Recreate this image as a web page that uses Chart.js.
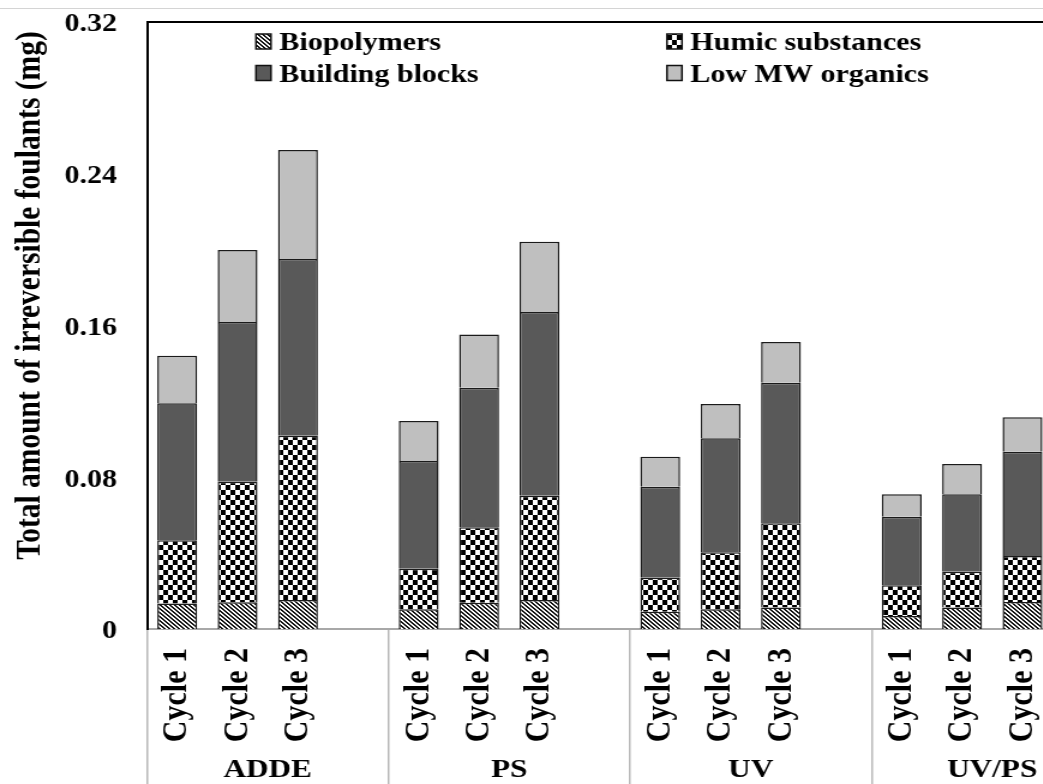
<!DOCTYPE html>
<html>
<head>
<meta charset="utf-8">
<script src="https://cdn.jsdelivr.net/npm/chart.js@4.4.1/dist/chart.umd.min.js"></script>
<style>
  html, body { margin: 0; padding: 0; background: #fff; overflow: hidden; width: 1043px; height: 784px; }
  #rule { position: absolute; left: 0; top: 8px; width: 1043px; height: 0; border-top: 1px solid #d4d4d4; }
  #frame { position: absolute; left: 0; top: 0; width: 930px; height: 784px; transform: scaleX(1.2); transform-origin: 0 0; }
  canvas { display: block; }
</style>
</head>
<body>
<div id="rule"></div>
<div id="frame"><canvas id="chart" width="930" height="784"></canvas></div>
<script>
// Treatment processes and filtration cycles
const processes = ['ADDE', 'PS', 'UV', 'UV/PS'];
const cycles = ['Cycle 1', 'Cycle 2', 'Cycle 3'];

// Irreversible foulant fractions (mg): one row per process, one value per cycle
const biopolymers    = [[0.0135, 0.0141, 0.0153], [0.0104, 0.0139, 0.0153], [0.0091, 0.0104, 0.0114], [0.0069, 0.0114, 0.0142]];
const humicSubst     = [[0.0333, 0.0635, 0.0866], [0.0214, 0.0397, 0.0550], [0.0179, 0.0300, 0.0443], [0.0161, 0.0188, 0.0243]];
const buildingBlocks = [[0.0722, 0.0842, 0.0931], [0.0568, 0.0736, 0.0968], [0.0480, 0.0601, 0.0741], [0.0362, 0.0408, 0.0550]];
const lowMwOrganics  = [[0.0251, 0.0380, 0.0575], [0.0210, 0.0281, 0.0371], [0.0158, 0.0181, 0.0215], [0.0118, 0.0160, 0.0181]];

const seriesNames = ['Biopolymers', 'Humic substances', 'Building blocks', 'Low MW organics'];
const yTicks = [0, 0.08, 0.16, 0.24, 0.32];
const yTitle = 'Total amount of irreversible foulants (mg)';

// Each process gets three cycle slots plus one empty slot as a gap
const slotLabels = processes.flatMap(() => [...cycles, '']);
const toSlots = rows => rows.flatMap(r => [...r, null]);

const FONT = '"Liberation Serif", "Times New Roman", serif';

const canvas = document.getElementById('chart');
const ctx = canvas.getContext('2d');

function hatchPattern() {
  const c = document.createElement('canvas');
  c.width = 4; c.height = 4;
  const g = c.getContext('2d');
  g.fillStyle = '#fff'; g.fillRect(0, 0, 4, 4);
  g.fillStyle = '#111';
  for (let i = 0; i < 4; i++) { g.fillRect(i, i, 1, 1); g.fillRect((i + 1) % 4, i, 1, 1); }
  return ctx.createPattern(c, 'repeat');
}
function checkerPattern() {
  const c = document.createElement('canvas');
  c.width = 8; c.height = 10;
  const g = c.getContext('2d');
  g.fillStyle = '#fff'; g.fillRect(0, 0, 8, 10);
  g.fillStyle = '#000'; g.fillRect(0, 0, 4, 5); g.fillRect(4, 5, 4, 5);
  return ctx.createPattern(c, 'repeat');
}

const fills = [hatchPattern(), checkerPattern(), '#595959', '#bfbfbf'];
const values = [biopolymers, humicSubst, buildingBlocks, lowMwOrganics];

const datasets = values.map((rows, i) => ({
  label: seriesNames[i],
  data: toSlots(rows),
  backgroundColor: fills[i],
  borderColor: '#1a1a1a',
  borderWidth: 1.5,
  barPercentage: 0.66,
  categoryPercentage: 1.0
}));

// Legend drawn as a 2 x 2 grid inside the top of the plot
const legendGrid = {
  id: 'legendGrid',
  afterDraw(chart) {
    const { ctx: c, chartArea: a } = chart;
    const colX = [90.8, 433.3];
    const rowY = [12, 43.5];
    c.save();
    c.font = 'bold 25px ' + FONT;
    c.textBaseline = 'alphabetic';
    c.textAlign = 'left';
    chart.data.datasets.forEach((ds, i) => {
      const x = a.left + colX[i % 2];
      const y = a.top + rowY[Math.floor(i / 2)];
      c.fillStyle = ds.backgroundColor;
      c.fillRect(x, y, 12.5, 15);
      c.lineWidth = 1.5;
      c.strokeStyle = '#111';
      c.strokeRect(x, y, 12.5, 15);
      c.fillStyle = '#000';
      c.fillText(ds.label, x + 19.5, y + 16);
    });
    c.restore();
  }
};

// Vertical axis title
const yAxisTitle = {
  id: 'yAxisTitle',
  afterDraw(chart) {
    const { ctx: c, chartArea: a } = chart;
    c.save();
    c.translate(a.left - 90, (a.top + a.bottom) / 2 - 30);
    c.rotate(-Math.PI / 2);
    c.font = 'bold 29.5px ' + FONT;
    c.fillStyle = '#000';
    c.textAlign = 'center';
    c.textBaseline = 'alphabetic';
    c.fillText(yTitle, 0, 0);
    c.restore();
  }
};

// Keep the plot edges exactly where the layout padding puts them
const noEdgePadding = s => { s.paddingTop = 0; s.paddingBottom = 0; s.paddingLeft = 0; s.paddingRight = 0; };

Chart.defaults.color = '#000';
Chart.defaults.font.family = FONT;

new Chart(ctx, {
  type: 'bar',
  data: { labels: slotLabels, datasets },
  options: {
    responsive: false,
    animation: false,
    layout: { autoPadding: false, padding: { left: 0, top: 22, right: 2.5, bottom: 0 } },
    plugins: { legend: { display: false }, tooltip: { enabled: false } },
    scales: {
      x: {
        stacked: true,
        offset: true,
        weight: 0,
        grid: {
          display: true,
          offset: true,
          drawOnChartArea: false,
          drawTicks: true,
          tickLength: 160,
          lineWidth: 1.5,
          color: c => (c.index % 4 === 0 ? '#b8b8b8' : 'rgba(0,0,0,0)')
        },
        border: { display: true, color: '#a8a8a8', width: 2 },
        ticks: {
          autoSkip: false,
          minRotation: 90,
          maxRotation: 90,
          padding: -141,
          font: { size: 30, weight: 'bold' }
        },
        afterFit: s => { s.height = 120; noEdgePadding(s); }
      },
      group: {
        type: 'category',
        labels: processes,
        position: 'bottom',
        offset: true,
        weight: 1,
        grid: { display: false, drawTicks: false },
        border: { display: false },
        ticks: { autoSkip: false, maxRotation: 0, padding: 5.4, font: { size: 26, weight: 'bold' } },
        afterFit: s => { s.height = 35; noEdgePadding(s); }
      },
      frameTop: {
        type: 'linear',
        position: 'top',
        grid: { display: false, drawTicks: false },
        ticks: { display: false },
        border: { display: true, color: '#000', width: 2 },
        afterFit: s => { s.height = 0; noEdgePadding(s); }
      },
      y: {
        stacked: true,
        min: 0,
        max: 0.32,
        grid: { display: false, drawTicks: false },
        border: { display: true, color: '#000', width: 2 },
        afterBuildTicks: s => { s.ticks = yTicks.map(v => ({ value: v })); },
        ticks: {
          padding: 25,
          labelOffset: 3,
          font: { size: 25, weight: 'bold' },
          callback: v => (v === 0 ? '0' : v.toFixed(2))
        },
        afterFit: s => { s.width = 122.5; noEdgePadding(s); }
      }
    }
  },
  plugins: [legendGrid, yAxisTitle]
});
</script>
</body>
</html>
